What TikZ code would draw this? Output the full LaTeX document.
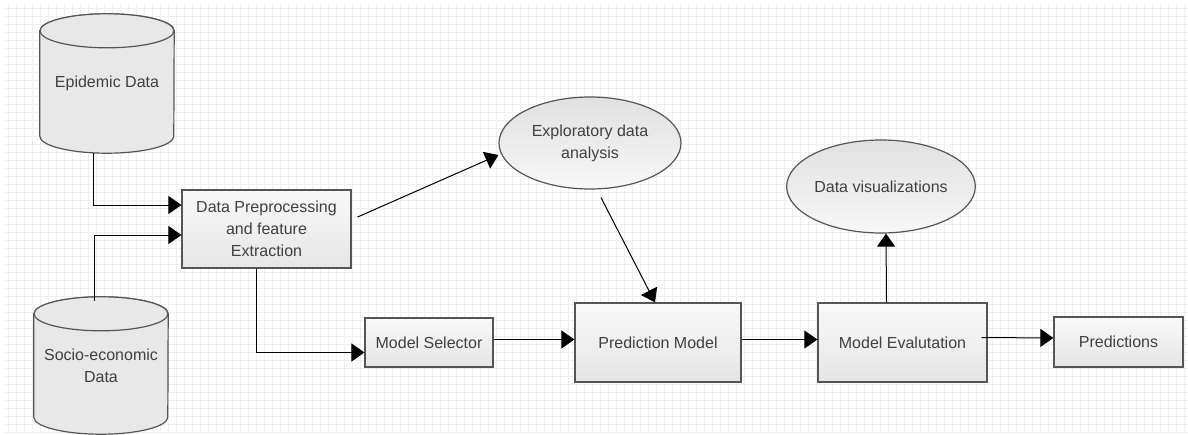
\documentclass[tikz,border=0pt]{standalone}
\usepackage{fontspec}
\setmainfont{Liberation Sans}
\usetikzlibrary{shapes.geometric,arrows.meta}
\definecolor{boxline}{HTML}{555555}
\definecolor{labeltext}{HTML}{404040}
\definecolor{gridline}{HTML}{EFEFEF}
\pgfdeclarelayer{background}
\pgfsetlayers{background,main}
\begin{document}
\begin{tikzpicture}[x=1pt,y=-1pt,
                    >={Triangle[length=13pt,width=18pt]},
                    every node/.style={font=\fontsize{16}{22}\selectfont,text=labeltext,align=center},
                    data node/.style={rectangle,minimum width=134pt},
                    data body/.style={draw=boxline,line width=1.2pt,fill=gray!18},
                    main node/.style={rectangle,draw=boxline,line width=1.2pt,top color=gray!5,bottom color=gray!20},
                    oval node/.style={ellipse,draw=boxline,line width=1.2pt,top color=gray!24,bottom color=gray!6,
                                      minimum width=182pt,minimum height=92pt,inner sep=0pt}]

        % Background grid
        \useasboundingbox (0,0) rectangle (1188,434);
        \begin{pgfonlayer}{background}
            \fill[white] (0,0) rectangle (1188,434);
            \draw[gridline,line width=0.5pt,step=8pt] (5,5) grid (1188,434);
        \end{pgfonlayer}

        % Define vertices
        \node[data node,minimum height=139pt] (epi) at (107,83.5) {Epidemic Data};
        \node[data node,minimum height=137pt] (soc) at (101,365.5) {Socio-economic\\Data};
        \node[main node,minimum width=169pt,minimum height=78pt] (prep) at (266.5,229)
            {Data Preprocessing\\and feature\\Extraction};
        \node[main node,minimum width=128pt,minimum height=49pt] (sel) at (429,342.5) {Model Selector};
        \node[main node,minimum width=166pt,minimum height=79pt] (pred) at (658,342.5) {Prediction Model};
        \node[oval node] (eda) at (590,143) {Exploratory data\\analysis};
        \node[main node,minimum width=169pt,minimum height=79pt] (eval) at (902.5,342.5) {Model Evalutation};
        \node[oval node,minimum height=93pt] (viz) at (881,186.5) {Data visualizations};
        \node[main node,minimum width=129pt,minimum height=50pt] (out) at (1118.5,342) {Predictions};

        % Cylinders behind the data nodes
        \begin{pgfonlayer}{background}
            \foreach \n in {epi,soc} {
                \draw[data body] ([yshift=-17pt]\n.north west) -- ([yshift=17pt]\n.south west)
                    arc[start angle=180,end angle=360,x radius=67pt,y radius=17pt]
                    -- ([yshift=-17pt]\n.north east)
                    arc[start angle=0,end angle=180,x radius=67pt,y radius=17pt] -- cycle;
                \draw[data body] ([yshift=-17pt]\n.north) ellipse[x radius=67pt,y radius=17pt];
            }
        \end{pgfonlayer}

        % Draw edges
        \draw[->,line width=1pt] ([xshift=-14pt]epi.south) |- ([yshift=24pt]prep.west);
        \draw[->,line width=1pt] ([xshift=-7pt,yshift=-4pt]soc.north) |- ([yshift=-6pt]prep.west);
        \draw[->,line width=1pt] ([xshift=-10pt]prep.south) |- ([yshift=-10pt]sel.west);
        \path[->,line width=1pt]
            ([xshift=6pt,yshift=12pt]prep.east) edge ([yshift=-12pt]eda.west)
            ([xshift=11pt,yshift=-8pt]eda.south) edge ([xshift=-3pt]pred.north)
            ([yshift=3pt]sel.east) edge ([yshift=3pt]pred.west)
            ([yshift=3pt]pred.east) edge ([yshift=3pt]eval.west)
            ([xshift=-16pt]eval.north) edge ([xshift=5pt]viz.south)
            ([xshift=-6pt,yshift=5pt]eval.east) edge ([yshift=4pt]out.west);
\end{tikzpicture}
\end{document}
